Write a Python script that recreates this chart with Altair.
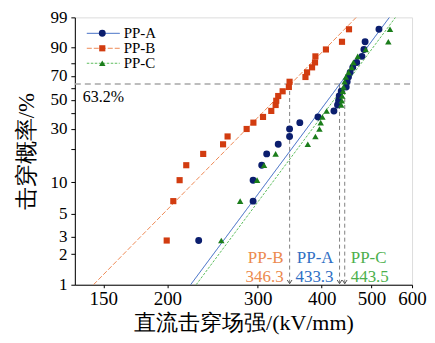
import math
import altair as alt
import pandas as pd

# ---------------- data ----------------
series = ["PP-A", "PP-B", "PP-C"]
# cumulative failure probability (%) of each ranked specimen
prob = [2.73, 6.60, 10.45, 14.4, 18.25, 22.2, 25.96, 30.0, 33.8, 37.5, 41.7, 46.1, 49.4,
        53.2, 57.1, 60.7, 65.1, 69.1, 72.9, 76.9, 80.6, 84.8, 89.0, 92.8, 97.0]
# breakdown strength (kV/mm)
ppa = [230.2, 293.9, 293.9, 305.5, 312.4, 329.0, 346.2, 346.2, 362.5, 393.3, 422.5, 429.4, 431.4,
       432.7, 436.6, 446.5, 448.4, 451.0, 454.5, 459.8, 468.0, 479.1, 483.4, 486.0, 517.2]
ppb = [199.4, 205.4, 211.3, 217.7, 234.9, 256.8, 262.1, 285.5, 294.3, 307.3, 318.9, 325.2, 326.1,
       329.0, 335.6, 345.1, 346.2, 371.8, 374.5, 383.0, 388.1, 388.8, 407.6, 438.1, 452.1]
ppc = [254.8, 277.3, 299.2, 308.7, 325.2, 375.7, 388.8, 395.9, 398.1, 401.2, 408.9, 436.6, 437.8,
       438.5, 439.7, 441.1, 443.1, 445.7, 451.0, 457.6, 461.1, 470.1, 487.3, 539.4, 543.5]
# Weibull scale parameters (63.2 %) and fitted-line end points (at 1 % and 99 %)
eta = [433.3, 346.3, 443.5]
fit_lo = [222.0, 143.5, 227.6]
fit_hi = [542.0, 467.0, 557.0]
ref_pct = 63.2

x_ticks = [150, 200, 300, 400, 500, 600]
x_domain = [132, 600]
y_ticks = [1, 2, 3, 5, 10, 20, 30, 40, 50, 60, 70, 80, 90, 99]
y_labelled = [1, 2, 3, 5, 10, 30, 50, 70, 90, 99]
y_domain_pct = [1, 99]

# ---------------- styles ----------------
marker_color = {"PP-A": "#0b1e6e", "PP-B": "#d23c10", "PP-C": "#1b7d1b"}
line_color = {"PP-A": "#2f5fbf", "PP-B": "#ee8a55", "PP-C": "#5cbd5c"}
text_color = {"PP-A": "#2f6fc4", "PP-B": "#ec8a4e", "PP-C": "#4cb04c"}
line_dash = {"PP-A": [1, 0], "PP-B": [5, 2], "PP-C": [2.5, 1.5]}
shape = {"PP-A": "circle", "PP-B": "square", "PP-C": "triangle-up"}
msize = {"PP-A": 48, "PP-B": 38, "PP-C": 42}

SERIF = "Times New Roman"
CJK = "Times New Roman"


def wb(p):
    return math.log(-math.log(1 - p / 100.0))


pts = pd.DataFrame(
    [{"series": s, "kv": v, "t": wb(p)}
     for s, vals in zip(series, [ppa, ppb, ppc]) for v, p in zip(vals, prob)]
)
fits = pd.DataFrame(
    [{"series": s, "kv": lo, "t": wb(y_domain_pct[0])} for s, lo in zip(series, fit_lo)]
    + [{"series": s, "kv": hi, "t": wb(y_domain_pct[1])} for s, hi in zip(series, fit_hi)]
)
etas = pd.DataFrame({"series": series, "kv": eta, "t": [wb(ref_pct)] * 3,
                     "t0": [wb(y_domain_pct[0])] * 3,
                     "val": [f"{e:.1f}" for e in eta]})
href = pd.DataFrame({"kv": [x_domain[0]], "kv2": [x_domain[1]], "t": [wb(ref_pct)]})

lab_list = ",".join(str(v) for v in y_labelled)
pexpr = "round(100*(1-exp(-exp(datum.value))))"
y_label_expr = f"indexof([{lab_list}], {pexpr}) >= 0 ? format({pexpr}, 'd') : ''"

xscale = alt.Scale(type="log", domain=x_domain, nice=False)
yscale = alt.Scale(domain=[wb(y_domain_pct[0]), wb(y_domain_pct[1])], nice=False, zero=False)

xaxis = alt.Axis(values=x_ticks, format="d", title="直流击穿场强/(kV/mm)", grid=False,
                 tickSize=3, labelPadding=2, titlePadding=4, labelFontSize=19,
                 titleFontSize=22, titleFont=CJK, titleFontWeight="normal",
                 labelFont=SERIF, domainColor="black", tickColor="black",
                 labelColor="black", titleColor="black", labelFlush=False,
                 labelOverlap=False)
yaxis = alt.Axis(values=[wb(p) for p in y_ticks], labelExpr=y_label_expr, title="击穿概率/%",
                 grid=False, tickSize=4, labelPadding=4, titlePadding=11, labelFontSize=17,
                 titleFontSize=23, titleFont=CJK, titleFontWeight="normal", labelFont=SERIF,
                 domainColor="black", tickColor="black", labelColor="black",
                 titleColor="black", labelFlush=False, labelOverlap=False)


def X(field="kv"):
    return alt.X(f"{field}:Q", scale=xscale, axis=xaxis)


def Y(field="t"):
    return alt.Y(f"{field}:Q", scale=yscale, axis=yaxis)


layers = []

# horizontal reference line at 63.2 %
layers.append(alt.Chart(href).mark_rule(color="#a8a8a8", strokeDash=[6, 4], strokeWidth=1.5)
              .encode(x=X(), x2="kv2:Q", y=Y()))
# vertical dashed drop lines
layers.append(alt.Chart(etas).mark_rule(color="#808080", strokeDash=[4, 3], strokeWidth=1)
              .encode(x=X(), y=Y(), y2="t0:Q"))
# arrow heads
layers.append(alt.Chart(etas).mark_point(shape="M-1,-1.6L0,0L1,-1.6", filled=False, size=22,
                                         color="#555555", strokeWidth=1, opacity=1, yOffset=-1)
              .encode(x=X(), y=Y("t0")))

# fitted lines
for s in series:
    layers.append(alt.Chart(fits[fits.series == s]).mark_line(
        color=line_color[s], strokeDash=line_dash[s], strokeWidth=1, clip=True)
        .encode(x=X(), y=Y()))

# data points
for s in series:
    layers.append(alt.Chart(pts[pts.series == s]).mark_point(
        shape=shape[s], filled=True, size=msize[s], color=marker_color[s], opacity=1)
        .encode(x=X(), y=Y()))

# 63.2% text
layers.append(alt.Chart(href).mark_text(text=f"{ref_pct}%", align="left", baseline="middle",
                                        font=SERIF, fontSize=16, color="black", dy=13)
              .encode(x=alt.value(8), y=Y()))

# labels near the x axis
for s in series:
    sub = etas[etas.series == s]
    al = "left" if s == "PP-C" else "right"
    dx = 6 if s == "PP-C" else -6
    layers.append(alt.Chart(sub).mark_text(align=al, baseline="middle", font=SERIF, fontSize=17,
                                           color=text_color[s], dx=dx)
                  .encode(x=X(), y=alt.value(241), text="series:N"))
    layers.append(alt.Chart(sub).mark_text(align=al, baseline="middle", font=SERIF, fontSize=17,
                                           color=text_color[s], dx=dx)
                  .encode(x=X(), y=alt.value(260), text="val:N"))

# manual legend
leg = pd.DataFrame({"series": series})
for i, s in enumerate(series):
    row = leg[leg.series == s]
    ly = 16 + 15 * i
    layers.append(alt.Chart(row).mark_rule(color=line_color[s], strokeDash=line_dash[s],
                                           strokeWidth=1)
                  .encode(x=alt.value(12), x2=alt.value(45), y=alt.value(ly)))
    layers.append(alt.Chart(row).mark_point(shape=shape[s], filled=True, size=msize[s],
                                            color=marker_color[s], opacity=1)
                  .encode(x=alt.value(27.5), y=alt.value(ly)))
    layers.append(alt.Chart(row).mark_text(align="left", baseline="middle", font=SERIF,
                                           fontSize=15, color="black")
                  .encode(x=alt.value(49), y=alt.value(ly), text="series:N"))

chart = alt.layer(*layers).properties(
    width=338, height=268,
    autosize=alt.AutoSizeParams(type="none"),
    padding={"left": 67, "top": 9, "right": 15, "bottom": 50},
).configure_view(stroke=None).configure(background="white", font=SERIF)

chart.save("out.html", embed_options={"renderer": "svg", "actions": False})
